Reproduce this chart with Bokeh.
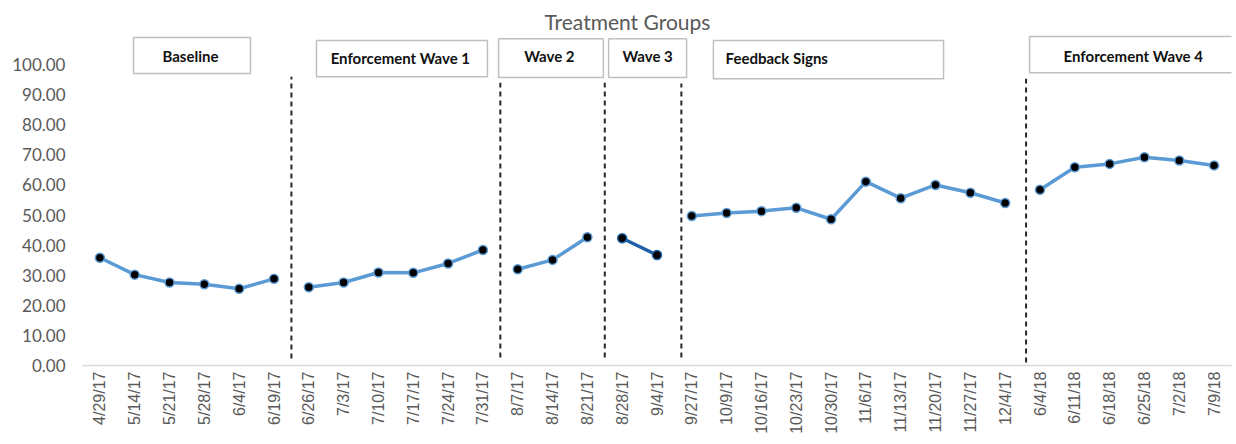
import math
from bokeh.plotting import figure
from bokeh.models import Range1d, FactorRange, FixedTicker, NumeralTickFormatter, ColumnDataSource
from bokeh.core.properties import value
from bokeh.embed import file_html
from bokeh.resources import INLINE

# ---------------- data ----------------
dates = ["4/29/17", "5/14/17", "5/21/17", "5/28/17", "6/4/17", "6/19/17",
         "6/26/17", "7/3/17", "7/10/17", "7/17/17", "7/24/17", "7/31/17",
         "8/7/17", "8/14/17", "8/21/17",
         "8/28/17", "9/4/17",
         "9/27/17", "10/9/17", "10/16/17", "10/23/17", "10/30/17", "11/6/17",
         "11/13/17", "11/20/17", "11/27/17", "12/4/17",
         "6/4/18", "6/11/18", "6/18/18", "6/25/18", "7/2/18", "7/9/18"]
values = [35.8, 30.2, 27.6, 27.0, 25.5, 28.8,
          26.0, 27.6, 30.9, 30.8, 33.9, 38.4,
          32.0, 35.1, 42.6,
          42.3, 36.7,
          49.7, 50.7, 51.3, 52.4, 48.6, 61.1, 55.6, 60.0, 57.4, 54.0,
          58.4, 65.9, 67.0, 69.2, 68.1, 66.5]
groups = ["Baseline", "Enforcement Wave 1", "Wave 2", "Wave 3", "Feedback Signs", "Enforcement Wave 4"]
group_sizes = [6, 6, 3, 2, 10, 6]
title_text = "Treatment Groups"
y_ticks = [0, 10, 20, 30, 40, 50, 60, 70, 80, 90, 100]

# ---------------- figure ----------------
p = figure(x_range=FactorRange(factors=dates, range_padding=0),
           y_range=Range1d(0, 121.3),
           width=1236, height=444, output_backend="svg", toolbar_location=None,
           min_border_left=82, min_border_right=5, min_border_top=0, min_border_bottom=79)
p.outline_line_color = None
p.background_fill_color = "white"
p.xgrid.grid_line_color = None
p.ygrid.grid_line_color = None

# y axis
p.yaxis.ticker = FixedTicker(ticks=y_ticks)
p.yaxis.formatter = NumeralTickFormatter(format="0.00")
p.yaxis.axis_line_color = None
p.yaxis.major_tick_line_color = None
p.yaxis.minor_tick_line_color = None
p.yaxis.major_tick_out = 0
p.yaxis.major_tick_in = 0
p.yaxis.major_label_standoff = 17
p.yaxis.major_label_text_font = "Lato"
p.yaxis.major_label_text_font_size = "17px"
p.yaxis.major_label_text_color = "#595959"

# x axis
p.xaxis.axis_line_color = "#d9d9d9"
p.xaxis.axis_line_width = 1.5
p.xaxis.major_tick_line_color = None
p.xaxis.minor_tick_line_color = None
p.xaxis.major_tick_out = 0
p.xaxis.major_tick_in = 0
p.xaxis.major_label_orientation = math.pi / 2
p.xaxis.major_label_standoff = 6
p.xaxis.major_label_text_font = "Liberation Sans"
p.xaxis.major_label_text_font_size = "16px"
p.xaxis.major_label_text_color = "#595959"

# ---------------- phase dividers ----------------
div_x = [6.0, 12.0, 15.0, 17.2, 27.1]
div_top = [96.0, 94.0, 94.0, 93.7, 95.3]
div_bot = [2.3, 2.7, 2.7, 2.7, 1.0]
p.segment(x0=div_x, y0=div_bot, x1=div_x, y1=div_top,
          line_color="#262626", line_width=2, line_dash="5 4")

# ---------------- lines & markers per group ----------------
start = 0
for name, n in zip(groups, group_sizes):
    xs = dates[start:start + n]
    ys = values[start:start + n]
    col = "#1f62a8" if name == "Wave 3" else "#5b9bd5"
    p.line(xs, ys, line_color=col, line_width=3.5, line_join="round", line_cap="round")
    p.scatter(xs, ys, size=9, fill_color="black", line_color=col, line_width=1.5)
    start += n

# ---------------- group label boxes ----------------
box_left = [1.465, 6.72, 11.95, 15.11, 18.12, 27.2]
box_right = [4.825, 11.63, 14.96, 17.35, 24.73, 33.4]
box_top = [109.0, 108.0, 108.6, 108.6, 108.0, 109.3]
box_bot = [97.0, 96.0, 95.7, 95.7, 95.3, 97.3]
p.quad(left=box_left, right=box_right, top=box_top, bottom=box_bot,
       fill_color="white", line_color="#bfbfbf", line_width=1.5)

lab_x = [3.10, 9.13, 13.41, 16.23, 18.47, 30.18]
lab_y = [103.0, 102.3, 103.0, 103.0, 102.3, 103.0]
lab_align = ["center", "center", "center", "center", "left", "center"]
lab_src = ColumnDataSource(dict(x=lab_x, y=lab_y, t=groups, a=lab_align))
p.text(x="x", y="y", text="t", text_align="a", source=lab_src,
       text_baseline="middle", text_font=value("Lato"), text_font_style="bold",
       text_font_size="15px", text_color="#111111")

# title
p.text(x=[15.65], y=[114.3], text=[title_text], text_align="center", text_baseline="middle",
       text_font=value("Lato"), text_font_size="21px", text_color="#595959")

open("out.html", "w").write(file_html(p, INLINE))
